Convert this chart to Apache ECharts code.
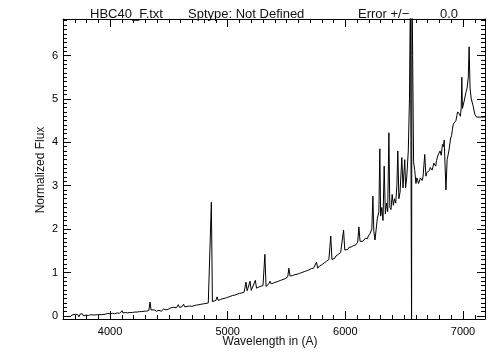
<!DOCTYPE html>
<html><head><meta charset="utf-8">
<script src="https://cdn.jsdelivr.net/npm/echarts@6/dist/echarts.min.js"></script>
<style>html,body{margin:0;padding:0;background:#fff}#c{width:504px;height:360px}</style>
</head><body><div id="c"></div>
<script>
const wavelength = [
  3665,3675,3685,3695,3705,3715,3725,3735,3745,3755,3765,3775,3785,3795,3805,3815,3825,3835,
  3850,3865,3880,3895,3910,3925,3940,3960,3980,4000,4020,4040,4060,4080,4095,4102,4110,
  4120,4130,4140,4150,4160,4170,4180,4190,4200,4210,4220,4230,4240,4250,4260,4270,4280,4290,4300,4310,4320,4330,
  4340,4348,4365,4375,4385,4395,4405,4415,4425,4435,4445,4455,4465,4475,4485,4492,4500,4510,4520,4530,4540,
  4555,4565,4580,4590,4600,4610,4625,4635,4645,4655,4665,4675,4685,4695,4705,4715,4725,4735,
  4745,4755,4765,4775,4785,4795,4805,4815,4825,4835,4842,4850,4861,4870,4885,
  4900,4910,4920,4940,4950,4960,4970,4980,4990,5000,5010,5020,5030,5040,5050,5060,5070,5080,5090,5100,5110,5120,5130,5140,
  5155,5165,5180,5190,5200,5215,5235,5245,5260,5275,5290,5300,5316,5326,5340,
  5350,5360,5370,5380,5390,5400,5410,5420,5430,5440,5450,5460,5470,5480,5490,5500,5510,5520,5530,5550,
  5560,5570,5580,5590,5600,5610,5620,5630,5640,5650,5660,5670,5680,5690,5700,5710,5720,5730,
  5745,5755,5765,5780,5790,5800,5810,5820,5830,5840,5850,5860,5876,5886,
  5900,5910,5920,5930,5940,5950,5960,5965,5975,5985,5995,6010,
  6020,6030,6040,6050,6060,6070,6080,6090,6097,6105,6115,6125,
  6133,6140,6150,6160,6170,6180,6188,6195,6203,6210,6218,6225,
  6234,6242,6252,6262,6272,6285,6293,6300,6310,6320,6330,6340,6350,6360,6370,
  6378,6388,6398,6408,6418,6428,6438,6446,6455,6465,6480,6490,6505,6512,6522,6535,
  6545,6553,6560,6563,6566,6572,6580,6590,6600,
  6608,6615,6622,6630,6638,6645,6652,6660,6675,6685,6692,6700,
  6708,6715,6722,6730,6738,6745,6752,6760,6768,6775,6783,6790,6798,6805,6815,6825,6833,6840,
  6855,6865,6880,6895,6903,6910,6918,6925,6933,6940,6948,6955,6962,6970,6978,
  6985,6990,6995,7010,7025,7035,7045,7052,7060,7070,7085,7100,7115,7187
];
const flux = [
  0.00,-0.03,0.03,-0.01,0.04,0.00,0.03,-0.02,0.04,0.01,0.05,0.00,0.04,0.02,0.05,0.01,0.04,0.03,
  0.05,0.02,0.05,0.03,0.05,0.03,0.05,0.04,0.06,0.05,0.06,0.05,0.07,0.06,0.07,0.12,0.07,
  0.09,0.08,0.06,0.07,0.09,0.08,0.07,0.08,0.10,0.09,0.08,0.09,0.11,0.10,0.09,0.10,0.12,0.11,0.10,0.11,0.12,0.13,
  0.32,0.14,0.12,0.14,0.13,0.11,0.12,0.13,0.12,0.11,0.14,0.16,0.15,0.14,0.17,0.18,0.16,0.17,0.19,0.18,0.20,
  0.21,0.19,0.26,0.20,0.22,0.21,0.27,0.21,0.23,0.22,0.21,0.23,0.24,0.22,0.21,0.24,0.26,0.25,
  0.24,0.26,0.28,0.27,0.26,0.28,0.30,0.29,0.28,0.30,0.31,0.33,2.62,0.33,0.32,
  0.36,0.44,0.36,0.38,0.37,0.40,0.42,0.41,0.40,0.43,0.46,0.45,0.44,0.47,0.49,0.48,0.47,0.50,0.53,0.52,0.51,0.53,0.56,0.55,
  0.78,0.58,0.60,0.80,0.59,0.62,0.82,0.64,0.66,0.68,0.67,0.70,1.42,0.68,0.72,
  0.74,0.80,0.74,0.77,0.76,0.75,0.78,0.81,0.80,0.79,0.82,0.85,0.84,0.83,0.86,0.88,0.90,1.10,0.92,0.93,
  0.96,0.95,0.93,0.96,0.99,0.98,0.96,1.00,1.03,1.02,1.00,1.04,1.07,1.06,1.04,1.09,1.12,1.10,
  1.12,1.24,1.10,1.15,1.14,1.18,1.21,1.22,1.20,1.26,1.28,1.30,1.84,1.30,
  1.34,1.33,1.38,1.41,1.42,1.40,1.46,1.49,1.50,1.98,1.52,1.55,
  1.53,1.58,1.60,1.59,1.58,1.62,1.65,1.64,1.62,1.70,2.05,1.72,
  1.76,1.74,1.72,1.76,1.79,1.80,1.78,1.84,1.88,1.90,1.86,2.00,
  2.76,1.95,1.75,2.00,2.25,2.40,3.85,2.30,2.50,2.20,3.45,2.35,2.60,2.40,4.22,
  2.50,2.45,2.80,2.55,2.70,2.60,3.00,3.80,2.70,2.85,3.65,2.95,3.60,2.95,3.20,3.80,
  5.00,7.50,7.50,-0.30,8.00,6.00,3.55,3.35,3.05,
  3.18,3.12,3.05,3.08,3.18,3.15,3.12,3.20,3.72,3.22,3.30,3.28,
  3.26,3.35,3.42,3.40,3.36,3.44,3.52,3.50,3.45,3.58,3.66,3.72,3.68,3.80,3.70,3.95,3.90,4.05,
  2.90,3.60,3.80,4.10,4.15,4.30,4.42,4.40,4.38,4.50,4.62,4.70,4.72,4.65,4.60,
  4.80,5.50,4.78,4.95,5.15,5.25,5.50,6.20,5.25,5.00,4.85,4.65,4.58,4.58
];
const xMajorTicks = [4000,5000,6000,7000];
const yMajorTicks = [0,1,2,3,4,5,6];

const xMinorTicks = [];
for (let v = 3600; v <= 7187; v += 100) xMinorTicks.push(v);
const yMinorTicks = [];
for (let i = 0; i <= 68; i++) yMinorTicks.push(i / 10);

const X_MIN = 3600, X_MAX = 7187, Y_MIN = -0.07, Y_MAX = 6.84;
const FONT = 'Liberation Sans';
const ink = '#000';

function xAx(pos, ticks, len, showLine, labels) {
  return {
    type: 'value', min: X_MIN, max: X_MAX, position: pos,
    axisLine: {show: showLine, onZero: false, lineStyle: {color: ink, width: 1}},
    axisTick: {show: true, inside: true, length: len, customValues: ticks, lineStyle: {color: ink, width: 1}},
    axisLabel: labels ? {show: true, customValues: xMajorTicks, formatter: v => String(v), color: ink, fontFamily: FONT, fontSize: 11, margin: 7} : {show: false},
    splitLine: {show: false}
  };
}
function yAx(pos, ticks, len, showLine, labels) {
  return {
    type: 'value', min: Y_MIN, max: Y_MAX, position: pos,
    axisLine: {show: showLine, onZero: false, lineStyle: {color: ink, width: 1}},
    axisTick: {show: true, inside: true, length: len, customValues: ticks, lineStyle: {color: ink, width: 1}},
    axisLabel: labels ? {show: true, customValues: yMajorTicks, formatter: v => String(v), color: ink, fontFamily: FONT, fontSize: 11, margin: 5} : {show: false},
    splitLine: {show: false}
  };
}

const chart = echarts.init(document.getElementById('c'), null, {renderer: 'canvas'});
const t = (text, left) => ({text, left, top: 3, textStyle: {fontFamily: FONT, fontSize: 13, fontWeight: 'normal', color: '#111'}});
chart.setOption({
  animation: false,
  backgroundColor: '#fff',
  title: [t('HBC40_F.txt', 85), t('Sptype: Not Defined', 183), t('Error +/\u2212', 353), t('0.0', 435)],
  grid: {left: 63, right: 19, top: 19, bottom: 41, containLabel: false},
  xAxis: [
    xAx('bottom', xMajorTicks, 8, true, true),
    xAx('bottom', xMinorTicks, 4, false, false),
    xAx('top', xMajorTicks, 8, true, false),
    xAx('top', xMinorTicks, 4, false, false)
  ],
  yAxis: [
    yAx('left', yMajorTicks, 8, true, true),
    yAx('left', yMinorTicks, 4, false, false),
    yAx('right', yMajorTicks, 8, true, false),
    yAx('right', yMinorTicks, 4, false, false)
  ],
  graphic: [
    {type: 'text', x: 270, y: 336, style: {text: 'Wavelength in (A)', fontFamily: FONT, fontSize: 12, fill: '#111', align: 'center', verticalAlign: 'top'}},
    {type: 'text', x: 41, y: 170, rotation: Math.PI / 2, style: {text: 'Normalized Flux', fontFamily: FONT, fontSize: 12, fill: '#111', align: 'center', verticalAlign: 'middle'}}
  ],
  series: [{
    type: 'line', xAxisIndex: 0, yAxisIndex: 0,
    data: wavelength.map((w, i) => [w, flux[i]]),
    showSymbol: false, symbol: 'none', clip: true,
    lineStyle: {color: ink, width: 1},
    silent: true
  }]
});
</script>
</body></html>
